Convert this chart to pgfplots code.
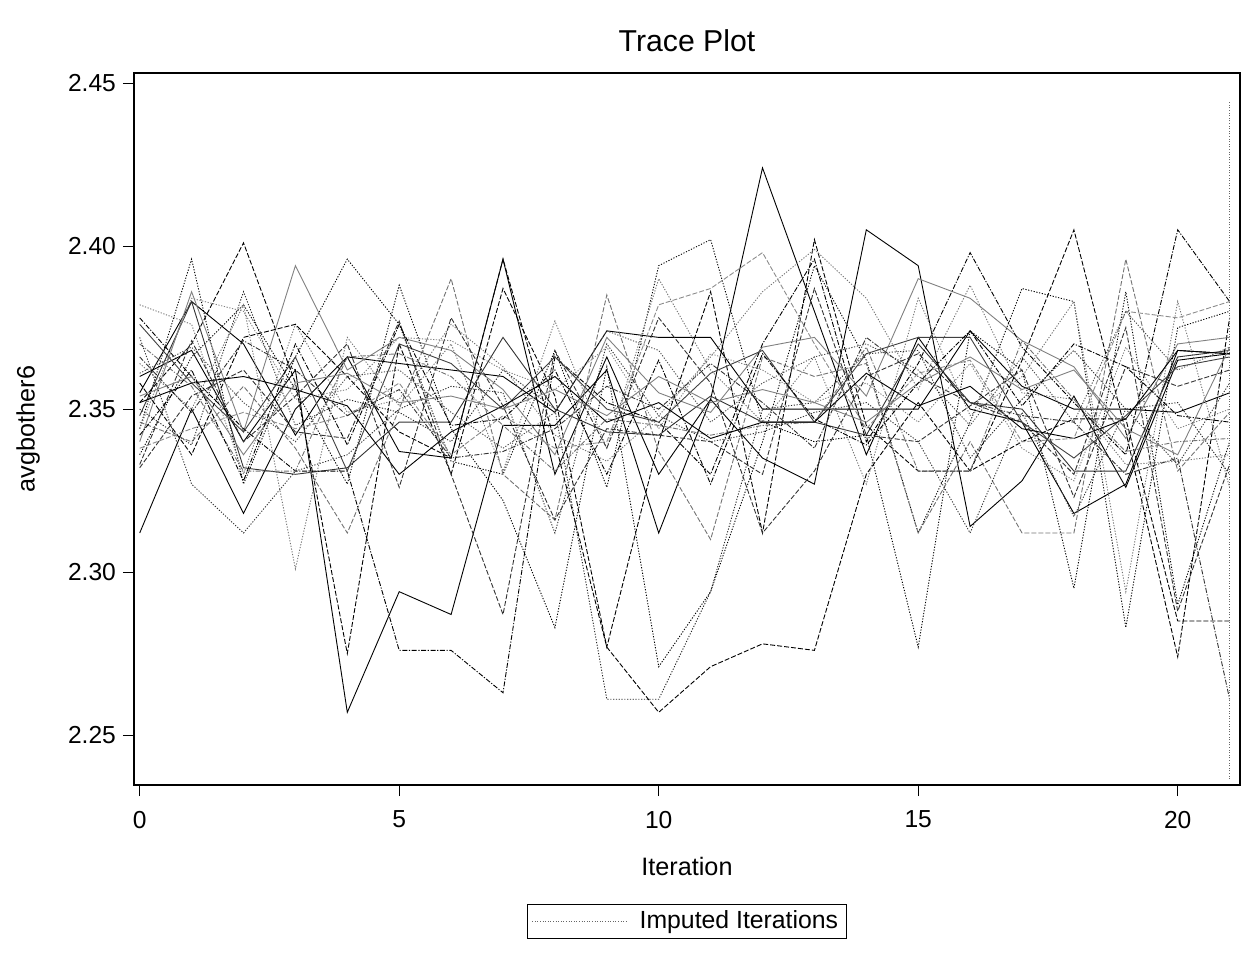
\documentclass[border=0pt]{standalone}
\usepackage{pgfplots}
\pgfplotsset{compat=1.18}
\usepackage{fontspec}
\setmainfont{Liberation Sans}
\tikzset{
  tl/.style={line width=0.45pt},
  dotA/.style={dash pattern=on 0.6pt off 0.8pt},
  dashA/.style={dash pattern=on 2.5pt off 1pt},
  ddA/.style={dash pattern=on 2.5pt off 0.8pt on 0.6pt off 0.8pt},
}
\begin{document}
\begin{tikzpicture}
\useasboundingbox (0,0) rectangle (630pt,477.5pt);
\begin{axis}[
  at={(67pt,85pt)}, anchor=south west,
  scale only axis, width=553pt, height=356pt,
  xmin=-0.11, xmax=21.2, ymin=2.2347, ymax=2.4531,
  xtick={0,5,10,15,20},
  ytick={2.25,2.30,2.35,2.40,2.45},
  yticklabel style={/pgf/number format/fixed,/pgf/number format/fixed zerofill,/pgf/number format/precision=2},
  xticklabel style={yshift=-4pt},
  /pgf/number format/assume math mode=true,
  tick label style={font=\fontsize{12.3}{14}\selectfont},
  tick align=outside, tick pos=left,
  major tick length=5.5pt,
  axis line style={line width=0.6pt},
  major tick style={line width=0.6pt, black},
  xlabel={Iteration}, ylabel={avgbother6},
  xlabel style={font=\fontsize{12.6}{14}\selectfont, at={(axis description cs:0.5,-0.1138)}, anchor=center},
  ylabel style={font=\fontsize{12.6}{14}\selectfont, at={(axis description cs:-0.0958,0.5)}, anchor=center},
  title={Trace Plot},
  title style={font=\fontsize{15.1}{17}\selectfont, at={(axis description cs:0.5,1.0435)}, anchor=center, yshift=-5.5pt},
  legend style={at={(axis description cs:0.5,-0.1917)}, anchor=center, draw=black, line width=0.5pt,
    font=\fontsize{12.4}{13}\selectfont, inner xsep=2pt, inner ysep=1.5pt},
  legend image code/.code={\draw[#1] (0pt,0pt) -- (47pt,0pt); \path (51.5pt,0pt);},
  legend cell align=left,
]
\addplot[tl, black, forget plot] coordinates {(0,2.312) (1,2.350) (2,2.318) (3,2.350) (4,2.366) (5,2.364) (6,2.362) (7,2.360) (8,2.349) (9,2.374) (10,2.372) (11,2.372) (12,2.350) (13,2.350) (14,2.350) (15,2.350) (16,2.374) (17,2.357) (18,2.350) (19,2.350) (20,2.349) (21,2.355)};
\addplot[tl, black, forget plot] coordinates {(0,2.355) (1,2.383) (2,2.370) (3,2.342) (4,2.366) (5,2.337) (6,2.335) (7,2.396) (8,2.330) (9,2.366) (10,2.330) (11,2.353) (12,2.424) (13,2.380) (14,2.336) (15,2.372) (16,2.350) (17,2.346) (18,2.318) (19,2.327) (20,2.368) (21,2.367)};
\addplot[tl, black, forget plot] coordinates {(0,2.360) (1,2.368) (2,2.340) (3,2.362) (4,2.257) (5,2.294) (6,2.287) (7,2.345) (8,2.345) (9,2.362) (10,2.312) (11,2.353) (12,2.335) (13,2.327) (14,2.405) (15,2.394) (16,2.314) (17,2.328) (18,2.354) (19,2.326) (20,2.365) (21,2.367)};
\addplot[tl, black!80, forget plot] coordinates {(0,2.348) (1,2.383) (2,2.332) (3,2.330) (4,2.332) (5,2.346) (6,2.346) (7,2.372) (8,2.350) (9,2.343) (10,2.342) (11,2.354) (12,2.346) (13,2.346) (14,2.342) (15,2.370) (16,2.352) (17,2.350) (18,2.331) (19,2.331) (20,2.366) (21,2.368)};
\addplot[tl, dotA, black, forget plot] coordinates {(0,2.344) (1,2.396) (2,2.327) (3,2.366) (4,2.396) (5,2.376) (6,2.334) (7,2.330) (8,2.368) (9,2.326) (10,2.394) (11,2.402) (12,2.346) (13,2.340) (14,2.342) (15,2.277) (16,2.374) (17,2.362) (18,2.295) (19,2.386) (20,2.290) (21,2.340)};
\addplot[tl, dashA, black, forget plot] coordinates {(0,2.352) (1,2.370) (2,2.401) (3,2.358) (4,2.275) (5,2.370) (6,2.330) (7,2.387) (8,2.354) (9,2.277) (10,2.340) (11,2.386) (12,2.312) (13,2.402) (14,2.345) (15,2.331) (16,2.331) (17,2.365) (18,2.405) (19,2.343) (20,2.274) (21,2.378)};
\addplot[tl, dotA, black!55, forget plot] coordinates {(0,2.382) (1,2.376) (2,2.330) (3,2.376) (4,2.349) (5,2.353) (6,2.376) (7,2.363) (8,2.342) (9,2.334) (10,2.348) (11,2.366) (12,2.386) (13,2.399) (14,2.384) (15,2.356) (16,2.388) (17,2.355) (18,2.353) (19,2.333) (20,2.334) (21,2.336)};
\addplot[tl, black!50, forget plot] coordinates {(0,2.340) (1,2.386) (2,2.343) (3,2.394) (4,2.362) (5,2.372) (6,2.368) (7,2.356) (8,2.336) (9,2.372) (10,2.355) (11,2.349) (12,2.369) (13,2.372) (14,2.354) (15,2.390) (16,2.384) (17,2.371) (18,2.363) (19,2.341) (20,2.370) (21,2.372)};
\addplot[tl, ddA, black, forget plot] coordinates {(0,2.378) (1,2.360) (2,2.344) (3,2.331) (4,2.331) (5,2.276) (6,2.276) (7,2.263) (8,2.366) (9,2.352) (10,2.346) (11,2.330) (12,2.370) (13,2.396) (14,2.340) (15,2.364) (16,2.398) (17,2.369) (18,2.352) (19,2.336) (20,2.405) (21,2.383)};
\addplot[tl, dotA, black, forget plot] coordinates {(0,2.336) (1,2.366) (2,2.382) (3,2.356) (4,2.327) (5,2.388) (6,2.344) (7,2.322) (8,2.283) (9,2.363) (10,2.271) (11,2.294) (12,2.340) (13,2.394) (14,2.365) (15,2.312) (16,2.346) (17,2.387) (18,2.383) (19,2.283) (20,2.375) (21,2.380)};
\addplot[tl, dashA, black!55, forget plot] coordinates {(0,2.346) (1,2.340) (2,2.357) (3,2.338) (4,2.312) (5,2.350) (6,2.390) (7,2.330) (8,2.316) (9,2.385) (10,2.337) (11,2.310) (12,2.366) (13,2.360) (14,2.364) (15,2.312) (16,2.340) (17,2.312) (18,2.312) (19,2.396) (20,2.331) (21,2.349)};
\addplot[tl, dotA, black!85, forget plot] coordinates {(0,2.350) (1,2.339) (2,2.386) (3,2.345) (4,2.353) (5,2.349) (6,2.340) (7,2.362) (8,2.350) (9,2.261) (10,2.261) (11,2.294) (12,2.350) (13,2.352) (14,2.367) (15,2.368) (16,2.335) (17,2.353) (18,2.368) (19,2.350) (20,2.352) (21,2.330)};
\addplot[tl, dashA, black, forget plot] coordinates {(0,2.358) (1,2.336) (2,2.372) (3,2.376) (4,2.360) (5,2.343) (6,2.335) (7,2.396) (8,2.340) (9,2.277) (10,2.257) (11,2.271) (12,2.278) (13,2.276) (14,2.330) (15,2.352) (16,2.331) (17,2.340) (18,2.347) (19,2.347) (20,2.285) (21,2.285)};
\addplot[tl, black!75, forget plot] coordinates {(0,2.376) (1,2.358) (2,2.343) (3,2.366) (4,2.331) (5,2.370) (6,2.364) (7,2.350) (8,2.366) (9,2.350) (10,2.346) (11,2.361) (12,2.368) (13,2.346) (14,2.367) (15,2.372) (16,2.372) (17,2.346) (18,2.335) (19,2.348) (20,2.363) (21,2.366)};
\addplot[tl, dotA, black!55, forget plot] coordinates {(0,2.364) (1,2.350) (2,2.382) (3,2.301) (4,2.372) (5,2.351) (6,2.370) (7,2.331) (8,2.377) (9,2.338) (10,2.390) (11,2.362) (12,2.346) (13,2.366) (14,2.327) (15,2.384) (16,2.348) (17,2.360) (18,2.383) (19,2.294) (20,2.383) (21,2.326)};
\addplot[tl, ddA, black!55, forget plot] coordinates {(0,2.370) (1,2.357) (2,2.331) (3,2.331) (4,2.366) (5,2.367) (6,2.360) (7,2.345) (8,2.331) (9,2.347) (10,2.345) (11,2.342) (12,2.345) (13,2.346) (14,2.369) (15,2.331) (16,2.331) (17,2.371) (18,2.353) (19,2.337) (20,2.340) (21,2.341)};
\addplot[tl, dashA, black!80, forget plot] coordinates {(0,2.332) (1,2.354) (2,2.362) (3,2.343) (4,2.341) (5,2.377) (6,2.330) (7,2.287) (8,2.368) (9,2.338) (10,2.378) (11,2.358) (12,2.312) (13,2.331) (14,2.360) (15,2.367) (16,2.352) (17,2.346) (18,2.330) (19,2.375) (20,2.288) (21,2.333)};
\addplot[tl, black, forget plot] coordinates {(0,2.352) (1,2.358) (2,2.360) (3,2.356) (4,2.351) (5,2.330) (6,2.343) (7,2.351) (8,2.360) (9,2.346) (10,2.352) (11,2.341) (12,2.346) (13,2.346) (14,2.361) (15,2.351) (16,2.357) (17,2.344) (18,2.341) (19,2.347) (20,2.368) (21,2.367)};
\addplot[tl, dotA, black!80, forget plot] coordinates {(0,2.372) (1,2.327) (2,2.312) (3,2.331) (4,2.336) (5,2.350) (6,2.357) (7,2.355) (8,2.312) (9,2.370) (10,2.348) (11,2.340) (12,2.343) (13,2.349) (14,2.352) (15,2.340) (16,2.312) (17,2.349) (18,2.317) (19,2.350) (20,2.333) (21,2.358)};
\addplot[tl, dashA, black!45, forget plot] coordinates {(0,2.338) (1,2.344) (2,2.349) (3,2.344) (4,2.348) (5,2.358) (6,2.336) (7,2.348) (8,2.338) (9,2.340) (10,2.382) (11,2.387) (12,2.398) (13,2.370) (14,2.344) (15,2.361) (16,2.365) (17,2.340) (18,2.341) (19,2.380) (20,2.378) (21,2.383)};
\addplot[tl, ddA, black!80, forget plot] coordinates {(0,2.366) (1,2.349) (2,2.371) (3,2.362) (4,2.348) (5,2.356) (6,2.335) (7,2.337) (8,2.344) (9,2.357) (10,2.350) (11,2.364) (12,2.352) (13,2.338) (14,2.372) (15,2.360) (16,2.352) (17,2.348) (18,2.346) (19,2.330) (20,2.335) (21,2.261)};
\addplot[tl, dotA, black!50, forget plot] coordinates {(0,2.344) (1,2.384) (2,2.380) (3,2.353) (4,2.356) (5,2.372) (6,2.371) (7,2.362) (8,2.356) (9,2.369) (10,2.344) (11,2.367) (12,2.362) (13,2.352) (14,2.358) (15,2.346) (16,2.364) (17,2.338) (18,2.328) (19,2.369) (20,2.344) (21,2.350)};
\addplot[tl, dashA, black!80, forget plot] coordinates {(0,2.333) (1,2.371) (2,2.340) (3,2.354) (4,2.370) (5,2.326) (6,2.378) (7,2.351) (8,2.316) (9,2.344) (10,2.342) (11,2.340) (12,2.330) (13,2.387) (14,2.342) (15,2.340) (16,2.351) (17,2.362) (18,2.323) (19,2.363) (20,2.357) (21,2.362)};
\addplot[tl, black!50, forget plot] coordinates {(0,2.354) (1,2.360) (2,2.336) (3,2.358) (4,2.361) (5,2.352) (6,2.354) (7,2.350) (8,2.356) (9,2.348) (10,2.360) (11,2.352) (12,2.356) (13,2.352) (14,2.346) (15,2.358) (16,2.366) (17,2.356) (18,2.362) (19,2.344) (20,2.336) (21,2.369)};
\addplot[tl, ddA, black, forget plot] coordinates {(0,2.342) (1,2.362) (2,2.328) (3,2.370) (4,2.339) (5,2.376) (6,2.345) (7,2.347) (8,2.362) (9,2.330) (10,2.365) (11,2.327) (12,2.367) (13,2.347) (14,2.339) (15,2.358) (16,2.374) (17,2.351) (18,2.370) (19,2.363) (20,2.348) (21,2.346)};
\addplot[tl, dotA, black!70, forget plot] coordinates {(0,2.361) (1,2.369) (2,2.352) (3,2.340) (4,2.360) (5,2.362) (6,2.349) (7,2.338) (8,2.349) (9,2.374) (10,2.368) (11,2.346) (12,2.358) (13,2.366) (14,2.370) (15,2.362) (16,2.345) (17,2.366) (18,2.346) (19,2.380) (20,2.362) (21,2.369)};
\addplot[line width=0.4pt, dash pattern=on 0.5pt off 0.8pt, black!60] coordinates {(21,2.2365) (21,2.4446)};
\addlegendentry{Imputed Iterations}
\end{axis}
\end{tikzpicture}
\end{document}
